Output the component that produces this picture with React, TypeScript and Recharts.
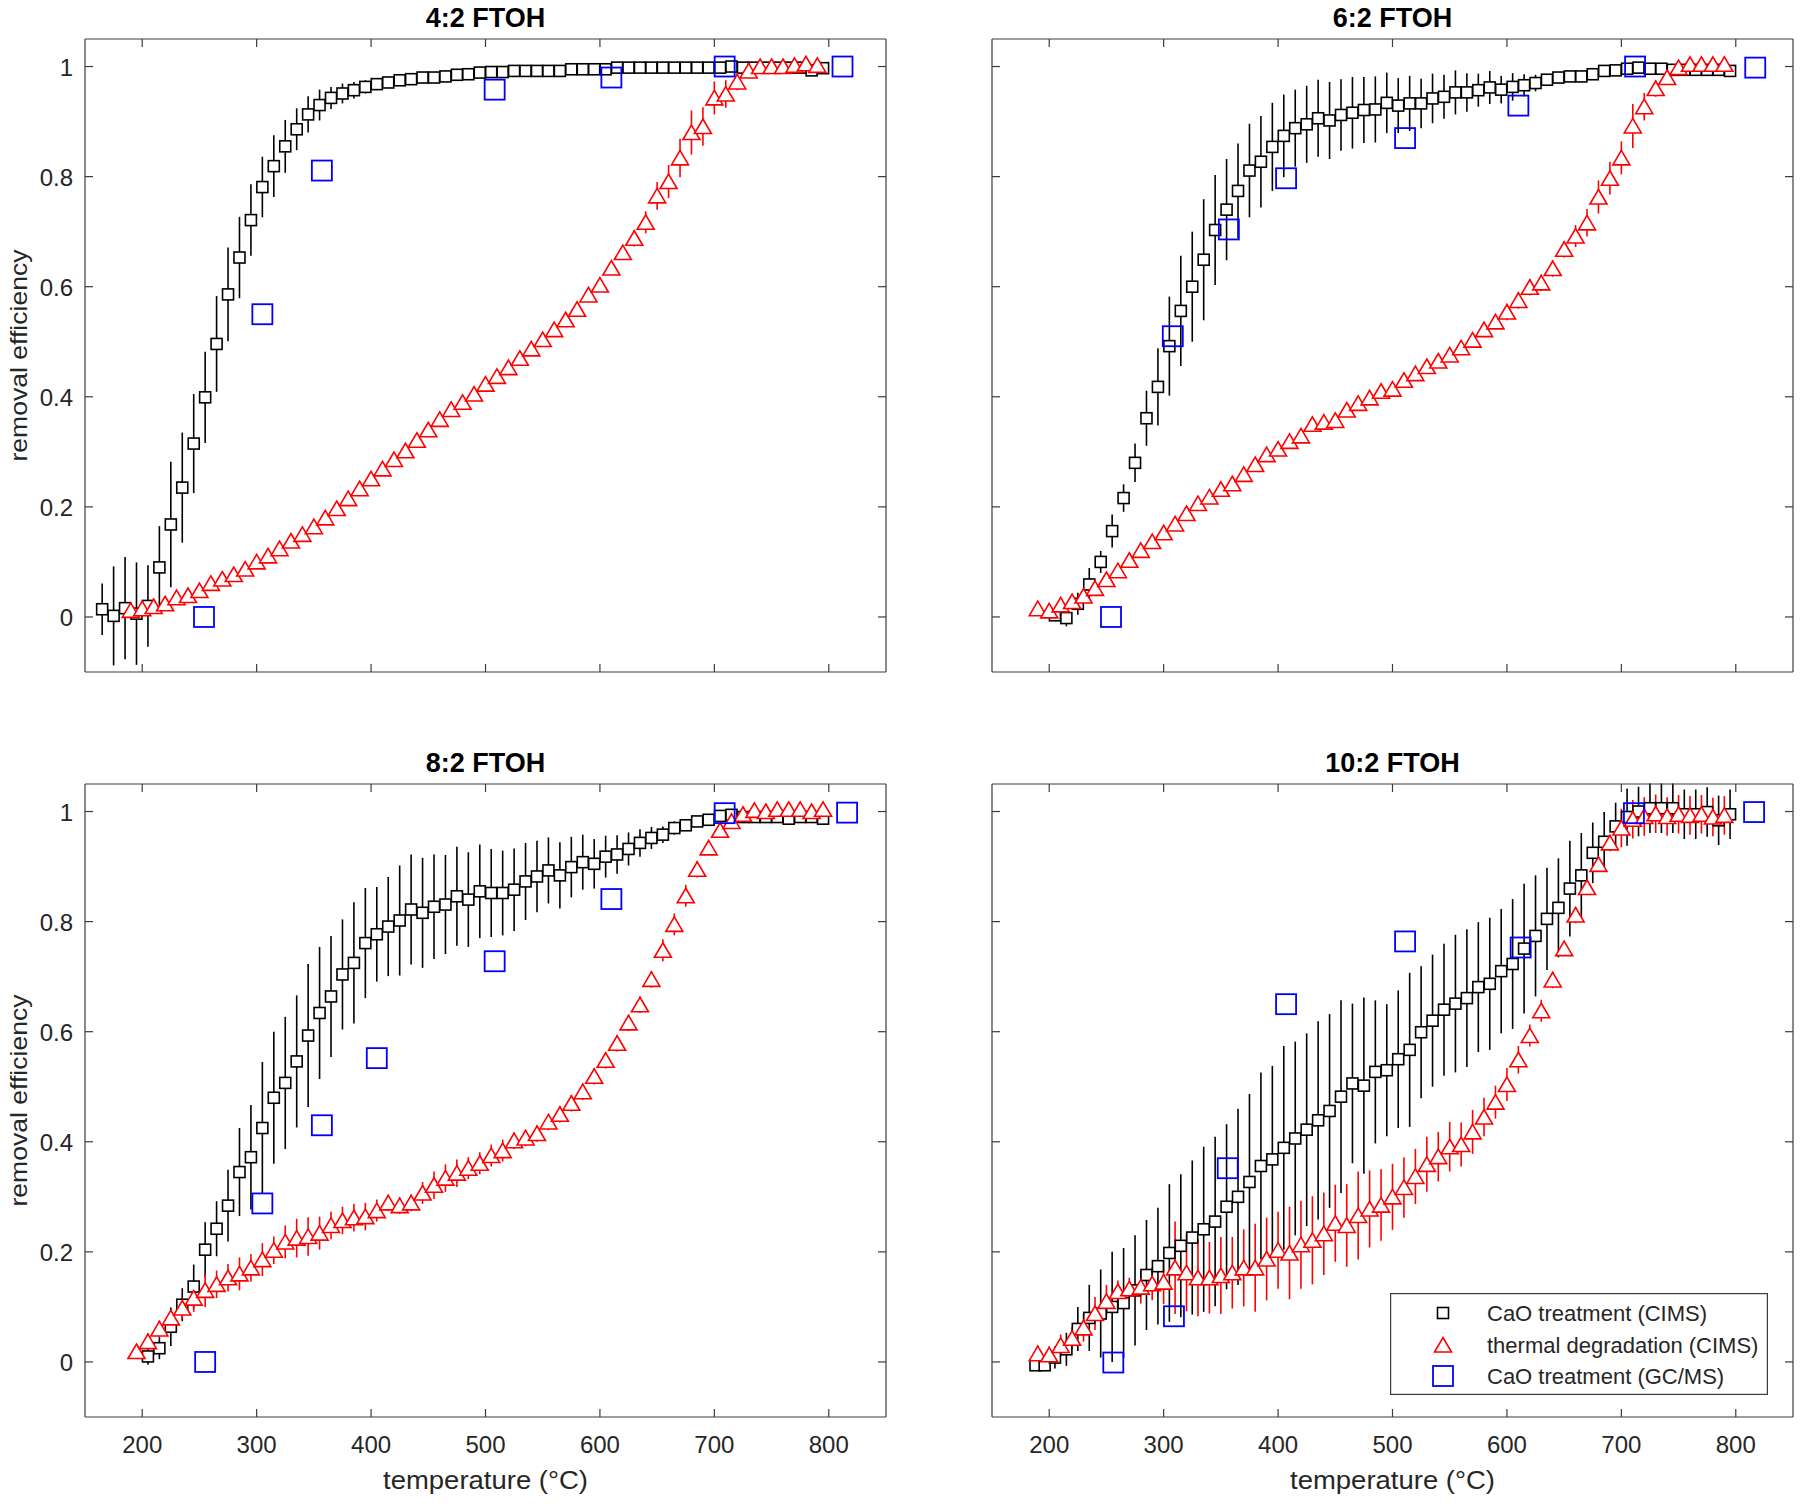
import React from 'react'
import { ScatterChart, Scatter, XAxis, YAxis, ErrorBar, Legend } from 'recharts'

// temperatures (°C)
const T_165 = [165, 175, 185, 195, 205, 215, 225, 235, 245, 255, 265, 275, 285, 295, 305, 315, 325, 335, 345, 355, 365, 375, 385, 395, 405, 415, 425, 435, 445, 455, 465, 475, 485, 495, 505, 515, 525, 535, 545, 555, 565, 575, 585, 595, 605, 615, 625, 635, 645, 655, 665, 675, 685, 695, 705, 715, 725, 735, 745, 755, 765, 775, 785, 795]
const T_205 = [205, 215, 225, 235, 245, 255, 265, 275, 285, 295, 305, 315, 325, 335, 345, 355, 365, 375, 385, 395, 405, 415, 425, 435, 445, 455, 465, 475, 485, 495, 505, 515, 525, 535, 545, 555, 565, 575, 585, 595, 605, 615, 625, 635, 645, 655, 665, 675, 685, 695, 705, 715, 725, 735, 745, 755, 765, 775, 785, 795]
const T_188 = [188, 196, 205, 215, 225, 235, 245, 255, 265, 275, 285, 295, 305, 315, 325, 335, 345, 355, 365, 375, 385, 395, 405, 415, 425, 435, 445, 455, 465, 475, 485, 495, 505, 515, 525, 535, 545, 555, 565, 575, 585, 595, 605, 615, 625, 635, 645, 655, 665, 675, 685, 695, 705, 715, 725, 735, 745, 755, 765, 775, 785, 795]
const T_190 = [190, 200, 210, 220, 230, 240, 250, 260, 270, 280, 290, 300, 310, 320, 330, 340, 350, 360, 370, 380, 390, 400, 410, 420, 430, 440, 450, 460, 470, 480, 490, 500, 510, 520, 530, 540, 550, 560, 570, 580, 590, 600, 610, 620, 630, 640, 650, 660, 670, 680, 690, 700, 710, 720, 730, 740, 750, 760, 770, 780, 790]
const T_195 = [195, 205, 215, 225, 235, 245, 255, 265, 275, 285, 295, 305, 315, 325, 335, 345, 355, 365, 375, 385, 395, 405, 415, 425, 435, 445, 455, 465, 475, 485, 495, 505, 515, 525, 535, 545, 555, 565, 575, 585, 595, 605, 615, 625, 635, 645, 655, 665, 675, 685, 695, 705, 715, 725, 735, 745, 755, 765, 775, 785, 795]

// 4:2 FTOH
const Y42_CAO = [0.014, 0.002, 0.016, 0.006, 0.02, 0.09, 0.168, 0.235, 0.315, 0.399,
  0.496, 0.586, 0.653, 0.721, 0.781, 0.819, 0.855, 0.886, 0.913, 0.93,
  0.943, 0.951, 0.957, 0.963, 0.968, 0.971, 0.975, 0.977, 0.98, 0.98,
  0.982, 0.985, 0.986, 0.989, 0.99, 0.99, 0.992, 0.992, 0.992, 0.992,
  0.992, 0.995, 0.995, 0.995, 0.995, 0.998, 0.998, 0.998, 0.998, 0.998,
  0.998, 0.998, 0.998, 0.998, 0.998, 1.0, 0.998, 0.998, 0.998, 0.998,
  0.998, 0.998, 0.993, 0.997]
const E42_CAO = [0.047, 0.09, 0.093, 0.093, 0.074, 0.075, 0.114, 0.1, 0.09, 0.083,
  0.087, 0.085, 0.074, 0.065, 0.055, 0.056, 0.048, 0.038, 0.033, 0.028,
  0.02, 0.018, 0.015, 0.012, 0.01, 0.008, 0.007, 0.006, 0.006, 0.005,
  0.005, 0.005, 0.005, 0.005, 0.005, 0.005, 0.005, 0.005, 0.005, 0.005,
  0.005, 0.005, 0.005, 0.005, 0.005, 0.005, 0.005, 0.005, 0.005, 0.005,
  0.005, 0.005, 0.005, 0.005, 0.005, 0.005, 0.005, 0.005, 0.005, 0.005,
  0.005, 0.005, 0.005, 0.005]
const Y42_TD = [0.012, 0.015, 0.019, 0.024, 0.035, 0.039, 0.048, 0.061, 0.069, 0.077,
  0.087, 0.1, 0.111, 0.124, 0.138, 0.15, 0.164, 0.18, 0.197, 0.215,
  0.233, 0.251, 0.269, 0.286, 0.302, 0.321, 0.34, 0.359, 0.377, 0.39,
  0.405, 0.423, 0.437, 0.453, 0.47, 0.487, 0.504, 0.522, 0.54, 0.559,
  0.585, 0.603, 0.634, 0.662, 0.688, 0.717, 0.765, 0.791, 0.834, 0.88,
  0.891, 0.943, 0.95, 0.972, 0.992, 1.0, 1.0, 1.0, 1.002, 1.005,
  1.002]
const E42_TD = [0.008, 0.008, 0.008, 0.008, 0.008, 0.008, 0.008, 0.008, 0.008, 0.008,
  0.008, 0.008, 0.008, 0.008, 0.008, 0.008, 0.008, 0.008, 0.008, 0.008,
  0.008, 0.008, 0.008, 0.008, 0.008, 0.008, 0.008, 0.008, 0.008, 0.008,
  0.008, 0.008, 0.008, 0.008, 0.008, 0.008, 0.008, 0.008, 0.008, 0.008,
  0.01, 0.012, 0.012, 0.012, 0.015, 0.02, 0.025, 0.03, 0.035, 0.04,
  0.035, 0.03, 0.025, 0.015, 0.01, 0.006, 0.006, 0.006, 0.006, 0.006,
  0.006]
const T42_GC = [254, 305, 357, 508, 610, 709, 812]
const Y42_GC = [0, 0.55, 0.811, 0.958, 0.98, 1.0, 1.0]

// 6:2 FTOH
const Y62_CAO = [0.003, -0.002, 0.024, 0.059, 0.1, 0.156, 0.216, 0.28, 0.361, 0.418,
  0.492, 0.556, 0.6, 0.649, 0.703, 0.74, 0.774, 0.811, 0.827, 0.854,
  0.874, 0.888, 0.895, 0.906, 0.902, 0.912, 0.916, 0.921, 0.922, 0.934,
  0.929, 0.933, 0.933, 0.942, 0.945, 0.953, 0.953, 0.957, 0.962, 0.958,
  0.963, 0.966, 0.97, 0.976, 0.98, 0.982, 0.982, 0.986, 0.992, 0.993,
  0.996, 0.998, 0.996, 0.996, 0.994, 0.994, 0.994, 0.994, 0.994, 0.992]
const E62_CAO = [0.01, 0.015, 0.02, 0.03, 0.02, 0.03, 0.025, 0.035, 0.05, 0.07,
  0.09, 0.1, 0.1, 0.11, 0.1, 0.092, 0.086, 0.085, 0.083, 0.08,
  0.075, 0.07, 0.07, 0.07, 0.07, 0.065, 0.065, 0.06, 0.06, 0.055,
  0.05, 0.05, 0.045, 0.045, 0.04, 0.04, 0.035, 0.03, 0.03, 0.025,
  0.025, 0.02, 0.015, 0.01, 0.006, 0.006, 0.006, 0.006, 0.006, 0.006,
  0.006, 0.006, 0.006, 0.006, 0.006, 0.006, 0.006, 0.006, 0.006, 0.006]
const Y62_TD = [0.015, 0.011, 0.022, 0.028, 0.038, 0.052, 0.068, 0.084, 0.103, 0.121,
  0.137, 0.153, 0.169, 0.188, 0.206, 0.218, 0.232, 0.242, 0.259, 0.277,
  0.295, 0.305, 0.319, 0.329, 0.35, 0.354, 0.357, 0.376, 0.388, 0.398,
  0.41, 0.414, 0.43, 0.442, 0.455, 0.465, 0.476, 0.489, 0.503, 0.522,
  0.536, 0.554, 0.575, 0.599, 0.607, 0.633, 0.668, 0.692, 0.716, 0.763,
  0.797, 0.834, 0.892, 0.927, 0.96, 0.98, 0.998, 1.004, 1.004, 1.004,
  1.004]
const E62_TD = [0.01, 0.01, 0.01, 0.01, 0.01, 0.01, 0.01, 0.01, 0.01, 0.01,
  0.01, 0.01, 0.01, 0.01, 0.01, 0.01, 0.01, 0.01, 0.01, 0.01,
  0.01, 0.01, 0.01, 0.01, 0.01, 0.01, 0.01, 0.01, 0.01, 0.01,
  0.01, 0.01, 0.01, 0.01, 0.01, 0.01, 0.01, 0.01, 0.01, 0.01,
  0.012, 0.015, 0.015, 0.015, 0.015, 0.015, 0.015, 0.02, 0.025, 0.03,
  0.03, 0.03, 0.04, 0.025, 0.015, 0.008, 0.008, 0.008, 0.008, 0.008,
  0.008]
const T62_GC = [254, 308, 357, 407, 511, 610, 712, 817]
const Y62_GC = [0, 0.51, 0.704, 0.797, 0.87, 0.929, 1.0, 0.998]

// 8:2 FTOH
const Y82_CAO = [0.01, 0.025, 0.064, 0.104, 0.137, 0.204, 0.242, 0.284, 0.345, 0.372,
  0.425, 0.48, 0.507, 0.546, 0.593, 0.634, 0.664, 0.704, 0.725, 0.761,
  0.777, 0.791, 0.802, 0.822, 0.816, 0.827, 0.831, 0.846, 0.84, 0.855,
  0.852, 0.852, 0.858, 0.873, 0.882, 0.893, 0.884, 0.899, 0.908, 0.905,
  0.918, 0.922, 0.932, 0.943, 0.952, 0.958, 0.97, 0.975, 0.982, 0.985,
  0.992, 0.994, 0.99, 0.99, 0.99, 0.99, 0.987, 0.99, 0.99, 0.987]
const E82_CAO = [0.015, 0.02, 0.035, 0.03, 0.04, 0.05, 0.05, 0.065, 0.08, 0.095,
  0.12, 0.12, 0.12, 0.12, 0.13, 0.12, 0.11, 0.1, 0.11, 0.1,
  0.086, 0.09, 0.1, 0.1, 0.1, 0.095, 0.09, 0.09, 0.086, 0.085,
  0.08, 0.077, 0.075, 0.07, 0.065, 0.06, 0.06, 0.055, 0.05, 0.045,
  0.038, 0.035, 0.03, 0.025, 0.02, 0.015, 0.012, 0.01, 0.008, 0.008,
  0.008, 0.008, 0.008, 0.008, 0.008, 0.008, 0.008, 0.008, 0.008, 0.008]
const Y82_TD = [0.019, 0.037, 0.06, 0.08, 0.098, 0.116, 0.13, 0.141, 0.153, 0.16,
  0.171, 0.186, 0.203, 0.218, 0.225, 0.228, 0.234, 0.248, 0.257, 0.262,
  0.264, 0.275, 0.289, 0.284, 0.289, 0.307, 0.321, 0.334, 0.343, 0.352,
  0.361, 0.375, 0.384, 0.402, 0.407, 0.415, 0.436, 0.45, 0.47, 0.491,
  0.519, 0.548, 0.579, 0.616, 0.649, 0.695, 0.748, 0.795, 0.847, 0.895,
  0.934, 0.966, 0.982, 0.995, 1.002, 1.0, 1.004, 1.004, 1.004, 1.0,
  1.004]
const E82_TD = [0.012, 0.015, 0.015, 0.015, 0.02, 0.025, 0.03, 0.025, 0.025, 0.03,
  0.025, 0.03, 0.025, 0.03, 0.035, 0.035, 0.03, 0.025, 0.025, 0.025,
  0.025, 0.02, 0.015, 0.015, 0.015, 0.02, 0.025, 0.025, 0.025, 0.02,
  0.02, 0.02, 0.02, 0.015, 0.015, 0.015, 0.015, 0.015, 0.015, 0.015,
  0.015, 0.015, 0.015, 0.015, 0.015, 0.015, 0.02, 0.02, 0.02, 0.015,
  0.012, 0.01, 0.006, 0.006, 0.006, 0.006, 0.006, 0.006, 0.006, 0.006,
  0.006]
const T82_GC = [255, 305, 357, 405, 508, 610, 709, 816]
const Y82_GC = [0, 0.288, 0.43, 0.552, 0.728, 0.841, 0.997, 0.998]

// 10:2 FTOH
const Y102_CAO = [-0.006, -0.006,
  0.008, 0.023, 0.06, 0.08, 0.088, 0.1, 0.107, 0.13, 0.158, 0.174,
  0.198, 0.211, 0.226, 0.241, 0.255, 0.282, 0.3, 0.327, 0.356, 0.368,
  0.389, 0.406, 0.422, 0.439, 0.456, 0.482, 0.506, 0.502, 0.527, 0.53,
  0.55, 0.567, 0.599, 0.62, 0.64, 0.651, 0.661, 0.681, 0.687, 0.71,
  0.723, 0.751, 0.774, 0.805, 0.825, 0.86, 0.884, 0.925, 0.945, 0.973,
  0.99, 1.0, 1.006, 1.006, 1.006, 0.995, 0.995, 0.999, 0.984, 0.995]
const E102_CAO = [0.01, 0.01,
  0.02, 0.03, 0.04, 0.06, 0.08, 0.1, 0.1, 0.1, 0.1, 0.106,
  0.125, 0.13, 0.14, 0.15, 0.154, 0.15, 0.16, 0.16, 0.17, 0.17,
  0.185, 0.176, 0.175, 0.18, 0.176, 0.175, 0.145, 0.16, 0.13, 0.12,
  0.125, 0.14, 0.12, 0.12, 0.12, 0.125, 0.125, 0.118, 0.12, 0.113,
  0.118, 0.118, 0.11, 0.093, 0.09, 0.087, 0.077, 0.055, 0.054, 0.043,
  0.052, 0.045, 0.045, 0.045, 0.045, 0.045, 0.045, 0.045, 0.045, 0.045]
const Y102_TD = [0.015, 0.013, 0.03, 0.043, 0.062, 0.088, 0.11, 0.128, 0.133, 0.136,
  0.142, 0.145, 0.171, 0.162, 0.153, 0.153, 0.157, 0.162, 0.171, 0.171,
  0.187, 0.203, 0.198, 0.213, 0.221, 0.233, 0.252, 0.248, 0.266, 0.278,
  0.285, 0.3, 0.317, 0.337, 0.359, 0.373, 0.391, 0.395, 0.418, 0.445,
  0.472, 0.504, 0.549, 0.593, 0.638, 0.694, 0.751, 0.812, 0.862, 0.904,
  0.943, 0.97, 0.986, 0.991, 0.996, 0.991, 0.995, 0.993, 0.995, 0.99,
  0.993]
const E102_TD = [0.015, 0.015, 0.02, 0.02, 0.025, 0.03, 0.03, 0.02, 0.02, 0.03,
  0.03, 0.04, 0.084, 0.07, 0.07, 0.065, 0.07, 0.065, 0.07, 0.08,
  0.075, 0.07, 0.084, 0.08, 0.08, 0.075, 0.07, 0.075, 0.08, 0.07,
  0.065, 0.06, 0.055, 0.05, 0.05, 0.045, 0.045, 0.04, 0.04, 0.035,
  0.03, 0.03, 0.025, 0.02, 0.02, 0.015, 0.012, 0.015, 0.012, 0.012,
  0.015, 0.035, 0.035, 0.035, 0.035, 0.035, 0.035, 0.035, 0.035, 0.035,
  0.035]
const T102_GC = [256, 309, 356, 407, 511, 612, 711, 816]
const Y102_GC = [-0.001, 0.083, 0.352, 0.65, 0.764, 0.753, 0.997, 0.999]

const X_TICKS = [200, 300, 400, 500, 600, 700, 800]
const Y_TICKS = [0, 0.2, 0.4, 0.6, 0.8, 1]
const LEGEND_LABELS = ['CaO treatment (CIMS)', 'thermal degradation (CIMS)', 'CaO treatment (GC/MS)']

const FONT = '"Liberation Sans", Arial, Helvetica, sans-serif'
const INK = '#262626'
const BOX = '#3c3c3c'
const PLOT_W = 801
const PLOT_H = 633
const Y_AXIS_W = 85
const TOP_H = 39
const X_AXIS_H = 80
const RIGHT_W = 4
const CHART_W = Y_AXIS_W + PLOT_W + RIGHT_W
const CHART_H = TOP_H + PLOT_H + X_AXIS_H
const TICK = 8

type Pt = { x: number; y: number; e: number }
const rows = (t: number[], y: number[], e?: number[]): Pt[] =>
  t.map((x, i) => ({ x, y: y[i], e: e ? e[i] : 0 }))

const BlackSquare = (p: any) => (
  <rect x={p.cx - 5.5} y={p.cy - 5.5} width={11} height={11} fill="#fff" stroke="#000" strokeWidth={1.6} />
)
const RedTriangle = (p: any) => (
  <polygon
    points={`${p.cx},${p.cy - 7.5} ${p.cx + 8.5},${p.cy + 7} ${p.cx - 8.5},${p.cy + 7}`}
    fill="#fff"
    stroke="#ff0000"
    strokeWidth={1.6}
  />
)
const BlueSquare = (p: any) => (
  <rect x={p.cx - 10} y={p.cy - 10} width={20} height={20} fill="none" stroke="#0000ff" strokeWidth={1.8} />
)

const leftTick = (show: boolean) => (p: any) => (
  <g>
    <line x1={p.x + 12} x2={p.x + 12 + TICK} y1={p.y} y2={p.y} stroke={BOX} strokeWidth={1.2} />
    {show && (
      <text x={p.x} y={p.y + 9} textAnchor="end" fontSize={24} fontFamily={FONT} fill={INK}>
        {String(p.payload.value)}
      </text>
    )}
  </g>
)
const rightTick = (p: any) => (
  <line x1={p.x} x2={p.x - TICK} y1={p.y} y2={p.y} stroke={BOX} strokeWidth={1.2} />
)
const bottomTick = (show: boolean) => (p: any) => (
  <g>
    <line x1={p.x} x2={p.x} y1={p.y - 36} y2={p.y - 36 - TICK} stroke={BOX} strokeWidth={1.2} />
    {show && (
      <text x={p.x} y={p.y} textAnchor="middle" fontSize={24} fontFamily={FONT} fill={INK}>
        {String(p.payload.value)}
      </text>
    )}
  </g>
)
const topTick = (p: any) => (
  <line x1={p.x} x2={p.x} y1={p.y} y2={p.y + TICK} stroke={BOX} strokeWidth={1.2} />
)

const Title = ({ text }: { text: string }) => (
  <text x={Y_AXIS_W + PLOT_W / 2} y={TOP_H - 12} textAnchor="middle" fontSize={27} fontWeight="bold" fontFamily={FONT} fill="#000">
    {text}
  </text>
)
const YTitle = () => {
  const x = Y_AXIS_W - 58
  const y = TOP_H + PLOT_H / 2
  return (
    <text x={x} y={y} transform={`rotate(-90 ${x} ${y})`} textAnchor="middle" fontSize={24}
      textLength={212} lengthAdjust="spacingAndGlyphs" fontFamily={FONT} fill={INK}>
      removal efficiency
    </text>
  )
}
const XTitle = () => (
  <text x={Y_AXIS_W + PLOT_W / 2} y={TOP_H + PLOT_H + 72} textAnchor="middle" fontSize={25}
    textLength={205} lengthAdjust="spacingAndGlyphs" fontFamily={FONT} fill={INK}>
    temperature (°C)
  </text>
)

const LegendBox = () => {
  const rowsY = [20, 52, 83]
  return (
    <svg width={378} height={102} style={{ display: 'block' }}>
      <rect x={0.6} y={0.6} width={376.8} height={100.8} fill="#fff" stroke={BOX} strokeWidth={1.2} />
      <BlackSquare cx={53} cy={rowsY[0]} />
      <RedTriangle cx={53} cy={rowsY[1]} />
      <BlueSquare cx={53} cy={rowsY[2]} />
      {LEGEND_LABELS.map((label, i) => (
        <text key={label} x={97} y={rowsY[i] + 7.7} fontSize={22} fontFamily={FONT} fill={INK}>
          {label}
        </text>
      ))}
    </svg>
  )
}

interface PanelProps {
  title: string
  plotLeft: number
  plotTop: number
  yLabels: boolean
  xLabels: boolean
  cao: Pt[]
  td: Pt[]
  gc: Pt[]
  legend?: boolean
}

function Panel({ title, plotLeft, plotTop, yLabels, xLabels, cao, td, gc, legend }: PanelProps) {
  const chartLeft = plotLeft - Y_AXIS_W
  const chartTop = plotTop - TOP_H
  const axisLine = { stroke: BOX, strokeWidth: 1.2 }
  return (
    <div style={{ position: 'absolute', left: chartLeft, top: chartTop }}>
      <ScatterChart width={CHART_W} height={CHART_H} margin={{ top: 0, right: 0, bottom: 0, left: 0 }}>
        <XAxis
          type="number"
          dataKey="x"
          domain={[150, 850]}
          ticks={X_TICKS}
          interval={0}
          allowDataOverflow
          height={X_AXIS_H}
          tickSize={0}
          tickMargin={36}
          tickLine={false}
          axisLine={axisLine}
          tick={bottomTick(xLabels)}
          label={xLabels ? <XTitle /> : undefined}
        />
        <XAxis
          xAxisId="top"
          orientation="top"
          type="number"
          dataKey="x"
          domain={[150, 850]}
          ticks={X_TICKS}
          interval={0}
          allowDataOverflow
          height={TOP_H}
          tickSize={0}
          tickMargin={0}
          tickLine={false}
          axisLine={axisLine}
          tick={topTick}
          label={<Title text={title} />}
        />
        <YAxis
          type="number"
          dataKey="y"
          domain={[-0.1, 1.05]}
          ticks={Y_TICKS}
          interval={0}
          allowDataOverflow
          width={Y_AXIS_W}
          tickSize={0}
          tickMargin={12}
          tickLine={false}
          axisLine={axisLine}
          tick={leftTick(yLabels)}
          label={yLabels ? <YTitle /> : undefined}
        />
        <YAxis
          yAxisId="right"
          orientation="right"
          type="number"
          dataKey="y"
          domain={[-0.1, 1.05]}
          ticks={Y_TICKS}
          interval={0}
          allowDataOverflow
          width={RIGHT_W}
          tickSize={0}
          tickMargin={0}
          tickLine={false}
          axisLine={axisLine}
          tick={rightTick}
        />
        <Scatter name={LEGEND_LABELS[0]} data={cao} shape={BlackSquare} isAnimationActive={false}>
          <ErrorBar dataKey="e" direction="y" width={0} stroke="#000" strokeWidth={1.6} />
        </Scatter>
        <Scatter name={LEGEND_LABELS[1]} data={td} shape={RedTriangle} isAnimationActive={false}>
          <ErrorBar dataKey="e" direction="y" width={0} stroke="#ff0000" strokeWidth={1.6} />
        </Scatter>
        <Scatter name={LEGEND_LABELS[2]} data={gc} shape={BlueSquare} isAnimationActive={false} />
        {legend && (
          <Legend
            layout="vertical"
            align="center"
            verticalAlign="middle"
            content={() => <LegendBox />}
            wrapperStyle={{ left: 483, top: 548.5, width: 378, height: 102 }}
          />
        )}
      </ScatterChart>
    </div>
  )
}

export default function App() {
  return (
    <div style={{ position: 'absolute', left: 0, top: 0, width: 1800, height: 1504, overflow: 'hidden', background: '#fff' }}>
      <Panel
        title="4:2 FTOH"
        plotLeft={85}
        plotTop={39}
        yLabels
        xLabels={false}
        cao={rows(T_165, Y42_CAO, E42_CAO)}
        td={rows(T_190, Y42_TD, E42_TD)}
        gc={rows(T42_GC, Y42_GC)}
      />
      <Panel
        title="6:2 FTOH"
        plotLeft={992}
        plotTop={39}
        yLabels={false}
        xLabels={false}
        cao={rows(T_205, Y62_CAO, E62_CAO)}
        td={rows(T_190, Y62_TD, E62_TD)}
        gc={rows(T62_GC, Y62_GC)}
      />
      <Panel
        title="8:2 FTOH"
        plotLeft={85}
        plotTop={783.5}
        yLabels
        xLabels
        cao={rows(T_205, Y82_CAO, E82_CAO)}
        td={rows(T_195, Y82_TD, E82_TD)}
        gc={rows(T82_GC, Y82_GC)}
      />
      <Panel
        title="10:2 FTOH"
        plotLeft={992}
        plotTop={783.5}
        yLabels={false}
        xLabels
        cao={rows(T_188, Y102_CAO, E102_CAO)}
        td={rows(T_190, Y102_TD, E102_TD)}
        gc={rows(T102_GC, Y102_GC)}
        legend
      />
    </div>
  )
}
